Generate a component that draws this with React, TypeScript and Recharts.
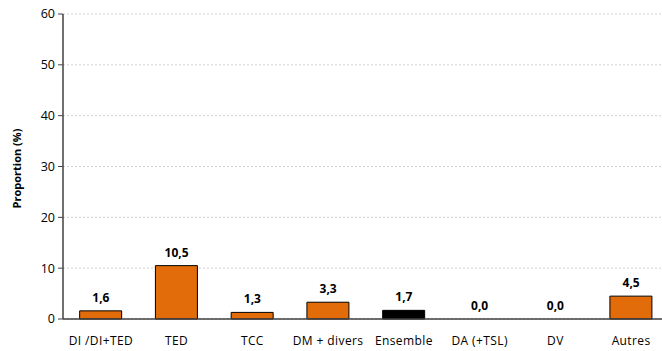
import React from 'react';
import { ComposedChart, Bar, Line, XAxis, YAxis, CartesianGrid, LabelList, Cell } from 'recharts';

const categories = ['DI /DI+TED', 'TED', 'TCC', 'DM + divers', 'Ensemble', 'DA (+TSL)', 'DV', 'Autres'];
const values = [1.6, 10.5, 1.3, 3.3, 1.7, 0.0, 0.0, 4.5];
const yTicks = [0, 10, 20, 30, 40, 50, 60];

const data = categories.map((c, i) => ({ name: c, value: values[i] }));

const FONT = 'Open Sans, sans-serif';

export default function App() {
  return (
    <div style={{ position: 'fixed', left: 0, top: 0, width: 662, height: 351, overflow: 'hidden', background: '#fff' }}>
      <ComposedChart
        width={669}
        height={351}
        data={data}
        margin={{ top: 14, right: 0, left: 0, bottom: 2 }}
        barCategoryGap="22%"
      >
        <CartesianGrid vertical={false} stroke="#d0d0d0" strokeDasharray="2 2" />
        <XAxis
          dataKey="name"
          height={30}
          tickLine={false}
          axisLine={{ stroke: '#404040', strokeWidth: 1.5 }}
          tick={{ fill: '#000', fontSize: 12, fontFamily: FONT, letterSpacing: 0.4 }}
          interval={0}
          tickMargin={11}
        />
        <YAxis
          width={63}
          domain={[0, 60]}
          ticks={yTicks}
          tickSize={5}
          tickLine={{ stroke: '#404040' }}
          axisLine={{ stroke: '#404040', strokeWidth: 1.5 }}
          tick={{ fill: '#000', fontSize: 12.5, fontFamily: FONT }}
          tickMargin={3}
          label={{
            value: 'Proportion (%)',
            angle: -90,
            position: 'insideLeft',
            dx: 12,
            dy: 2,
            style: { fontSize: 11, fontWeight: 'bold', fontFamily: FONT, fill: '#000', textAnchor: 'middle' },
          }}
        />
        <Bar dataKey="value" isAnimationActive={false} stroke="#000" strokeWidth={1}>
          {data.map((d, i) => (
            <Cell key={i} fill={d.name === 'Ensemble' ? '#000000' : '#E36C0A'} />
          ))}
        </Bar>
        <Line
          dataKey="value"
          isAnimationActive={false}
          stroke="none"
          dot={false}
          activeDot={false}
          legendType="none"
        >
          <LabelList
            dataKey="value"
            position="top"
            offset={9}
            formatter={(v: number) => Number(v).toFixed(1).replace('.', ',')}
            style={{ fontSize: 12, fontWeight: 'bold', fontFamily: FONT, fill: '#000' }}
          />
        </Line>
      </ComposedChart>
    </div>
  );
}
